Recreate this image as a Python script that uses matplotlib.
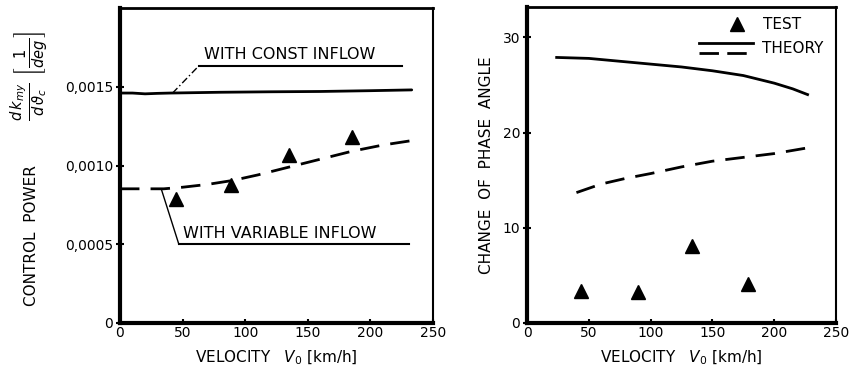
import matplotlib
matplotlib.use("Agg")
import matplotlib.pyplot as plt
from matplotlib.ticker import FixedLocator, FixedFormatter

# ---------------- data ----------------
# Left panel: control power
const_v = [0, 10, 20, 30, 40, 80, 120, 160, 200, 233]
const_cp = [0.00146, 0.00146, 0.001455, 0.001458, 0.00146, 0.001465, 0.001468, 0.00147, 0.001475, 0.00148]
var_v = [0, 20, 35, 50, 70, 90, 110, 135, 160, 185, 210, 233]
var_cp = [0.000852, 0.000852, 0.000852, 0.000862, 0.00088, 0.000905, 0.00094, 0.00099, 0.00104, 0.00109, 0.00113, 0.001158]
test_v_left = [45, 89, 135, 185]
test_cp = [0.000789, 0.000878, 0.001068, 0.001183]

const_label = "WITH CONST INFLOW"
var_label = "WITH VARIABLE INFLOW"

# Right panel: change of phase angle
theory_const_v = [24, 50, 75, 100, 125, 150, 175, 200, 215, 227]
theory_const_ang = [27.9, 27.8, 27.5, 27.2, 26.9, 26.5, 26.0, 25.2, 24.6, 24.0]
theory_var_v = [40, 60, 80, 100, 125, 150, 175, 200, 227]
theory_var_ang = [13.7, 14.6, 15.2, 15.7, 16.4, 17.0, 17.4, 17.8, 18.4]
test_v_right = [43.6, 90, 133.6, 178.6]
test_ang = [3.4, 3.3, 8.1, 4.1]

left_yticks = [0, 0.0005, 0.0010, 0.0015]
left_yticklabels = ["0", "0,0005", "0,0010", "0,0015"]
xticks = [0, 50, 100, 150, 200, 250]
xticklabels = ["0", "50", "100", "150", "200", "250"]
right_yticks = [0, 10, 20, 30]
right_yticklabels = ["0", "10", "20", "30"]

plt.rcParams['font.family'] = ['DejaVu Sans']
fig = plt.figure(figsize=(8.5, 3.84), dpi=100)
W, H = 850.0, 384.0

def axrect(x0, x1, ytop, ybot):
    return [x0 / W, 1 - ybot / H, (x1 - x0) / W, (ybot - ytop) / H]

axL = fig.add_axes(axrect(120, 433, 8, 323))
axR = fig.add_axes(axrect(527, 836, 7, 323))

lw = 2.0
for ax in (axL, axR):
    ax.spines['left'].set_linewidth(3.0)
    ax.spines['bottom'].set_linewidth(3.0)
    ax.spines['top'].set_linewidth(2.0)
    ax.spines['right'].set_linewidth(1.5)
    ax.set_xlim(0, 250)
    ax.xaxis.set_major_locator(FixedLocator(xticks))
    ax.xaxis.set_major_formatter(FixedFormatter(xticklabels))
    ax.tick_params(axis='both', direction='inout', length=6, width=1.5, labelsize=10, pad=2)
    ax.tick_params(axis='x', direction='in', length=3)
    ax.set_xlabel(r"VELOCITY   $V_0$ [km/h]", fontsize=11, labelpad=6)

# ---- left panel ----
axL.set_ylim(0, 0.002)
axL.yaxis.set_major_locator(FixedLocator(left_yticks))
axL.yaxis.set_major_formatter(FixedFormatter(left_yticklabels))
axL.plot(const_v, const_cp, color='black', lw=lw, solid_capstyle='round')
axL.plot(var_v, var_cp, color='black', lw=lw, dashes=(7, 4))
axL.plot(test_v_left, test_cp, linestyle='none', marker='^', color='black', markersize=10)

# const inflow label with leader
axL.plot([42, 63], [0.00146, 0.001633], color='black', lw=1.0, dashes=(5, 2, 1, 2))
axL.plot([63, 225], [0.001633, 0.001633], color='black', lw=1.5)
axL.text(67, 0.001655, const_label, fontsize=11.5, ha='left', va='bottom')

# variable inflow label with leader
axL.plot([33, 47], [0.00085, 0.0005], color='black', lw=1.0)
axL.plot([47, 231], [0.0005, 0.0005], color='black', lw=1.5)
axL.text(50, 0.00052, var_label, fontsize=11.5, ha='left', va='bottom')

fig.text(32 / W, 1 - 236 / H, "CONTROL  POWER", rotation=90, ha='center', va='center', fontsize=11)
fig.text(30 / W, 1 - 76 / H, r"$\frac{d\,k_{my}}{d\,\vartheta_c}\ \left[\frac{1}{deg}\right]$",
         rotation=90, ha='center', va='center', fontsize=15)

# ---- right panel ----
axR.set_ylim(0, 33.2)
axR.yaxis.set_major_locator(FixedLocator(right_yticks))
axR.yaxis.set_major_formatter(FixedFormatter(right_yticklabels))
axR.plot(theory_const_v, theory_const_ang, color='black', lw=lw)
axR.plot(theory_var_v, theory_var_ang, color='black', lw=lw, dashes=(7, 4))
axR.plot(test_v_right, test_ang, linestyle='none', marker='^', color='black', markersize=10)
axR.set_ylabel("CHANGE  OF  PHASE  ANGLE", fontsize=11, labelpad=6)

# legend drawn in axes fraction
t = axR.transAxes
axR.plot([0.68], [0.946], marker='^', color='black', markersize=10, transform=t, linestyle='none')
axR.text(0.765, 0.946, "TEST", transform=t, fontsize=11, ha='left', va='center')
axR.plot([0.557, 0.731], [0.887, 0.887], color='black', lw=lw, transform=t)
axR.plot([0.557, 0.731], [0.853, 0.853], color='black', lw=lw, dashes=(7, 3), transform=t)
axR.text(0.762, 0.870, "THEORY", transform=t, fontsize=11, ha='left', va='center')

fig.savefig("out.png", dpi=100)
